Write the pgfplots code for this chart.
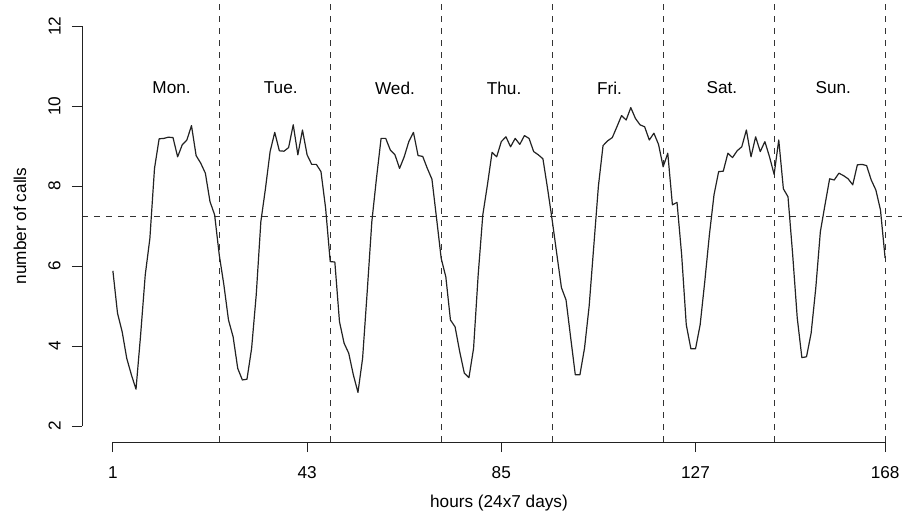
\documentclass[border=0pt]{standalone}
\usepackage{fontspec}
\setmainfont{Liberation Sans}
\usepackage{pgfplots}
\usepackage{pgfplotstable}
\pgfplotsset{compat=1.18}
\usetikzlibrary{calc}

% hourly number of calls over one week
\pgfplotstableread{
hour calls
1 5.88
2 4.82
3 4.36
4 3.69
5 3.28
6 2.92
7 4.28
8 5.78
9 6.69
10 8.44
11 9.18
12 9.19
13 9.22
14 9.21
15 8.73
16 9.03
17 9.15
18 9.51
19 8.76
20 8.57
21 8.32
22 7.61
23 7.28
24 6.28
25 5.53
26 4.65
27 4.23
28 3.44
29 3.15
30 3.17
31 3.94
32 5.28
33 7.11
34 7.94
35 8.86
36 9.34
37 8.88
38 8.87
39 8.96
40 9.53
41 8.78
42 9.40
43 8.78
44 8.54
45 8.54
46 8.36
47 7.45
48 6.11
49 6.10
50 4.61
51 4.07
52 3.82
53 3.28
54 2.84
55 3.69
56 5.36
57 7.11
58 8.19
59 9.19
60 9.19
61 8.90
62 8.78
63 8.44
64 8.73
65 9.11
66 9.34
67 8.76
68 8.74
69 8.44
70 8.17
71 7.19
72 6.19
73 5.73
74 4.65
75 4.48
76 3.86
77 3.32
78 3.21
79 3.94
80 5.78
81 7.28
82 8.03
83 8.84
84 8.73
85 9.11
86 9.23
87 8.98
88 9.19
89 9.04
90 9.26
91 9.19
92 8.86
93 8.78
94 8.68
95 7.94
96 7.15
97 6.30
98 5.46
99 5.15
100 4.21
101 3.28
102 3.28
103 3.95
104 5.00
105 6.50
106 8.00
107 9.01
108 9.13
109 9.21
110 9.48
111 9.76
112 9.65
113 9.96
114 9.69
115 9.53
116 9.48
117 9.15
118 9.32
119 9.04
120 8.48
121 8.82
122 7.53
123 7.59
124 6.28
125 4.53
126 3.93
127 3.93
128 4.53
129 5.61
130 6.78
131 7.78
132 8.36
133 8.37
134 8.82
135 8.71
136 8.88
137 8.98
138 9.40
139 8.73
140 9.23
141 8.86
142 9.11
143 8.73
144 8.29
145 9.15
146 7.93
147 7.73
148 6.30
149 4.70
150 3.71
151 3.73
152 4.32
153 5.44
154 6.86
155 7.53
156 8.18
157 8.15
158 8.32
159 8.26
160 8.18
161 8.03
162 8.53
163 8.54
164 8.51
165 8.15
166 7.90
167 7.40
168 6.20
}\calls

\definecolor{ink}{HTML}{222222}
\definecolor{refline}{HTML}{333333}

\begin{document}
\begin{tikzpicture}
\begin{axis}[
    name=ax,
    scale only axis,
    width=417pt, height=216pt,
    xmin=-5.68, xmax=174.68,
    ymin=1.6, ymax=12.4,
    clip=false,
    axis line style={draw=none},
    xtick={1,43,85,127,168},
    ytick={2,4,6,8,10,12},
    xtick pos=left, ytick pos=left,
    tick align=outside,
    major tick length=5pt,
    every tick/.style={ink, line width=0.45pt},
    tick label style={font=\fontsize{8.6}{10}\selectfont, inner sep=0pt,
        /pgf/number format/assume math mode=true},
    xticklabel style={anchor=north, yshift=-7pt},
    yticklabel={\rotatebox{90}{\pgfmathprintnumber{\tick}}},
    yticklabel style={anchor=east, xshift=-5.5pt},
    xlabel={hours (24x7 days)},
    ylabel={number of calls},
    label style={font=\fontsize{8.6}{10}\selectfont},
    xlabel style={at={(axis description cs:0.5,-0.142)}, anchor=center},
    ylabel style={at={(axis description cs:-0.0743,0.5)}, anchor=center},
]
% day separators and mean level
\addplot[refline, line width=0.45pt, dash pattern=on 3pt off 3pt] coordinates {(-5.68,7.25) (174.68,7.25)};
\addplot[refline, line width=0.45pt, dash pattern=on 3pt off 3pt] coordinates {(24,1.6) (24,12.7)};
\addplot[refline, line width=0.45pt, dash pattern=on 3pt off 3pt] coordinates {(48,1.6) (48,12.7)};
\addplot[refline, line width=0.45pt, dash pattern=on 3pt off 3pt] coordinates {(72,1.6) (72,12.7)};
\addplot[refline, line width=0.45pt, dash pattern=on 3pt off 3pt] coordinates {(96,1.6) (96,12.7)};
\addplot[refline, line width=0.45pt, dash pattern=on 3pt off 3pt] coordinates {(120,1.6) (120,12.7)};
\addplot[refline, line width=0.45pt, dash pattern=on 3pt off 3pt] coordinates {(144,1.6) (144,12.7)};
\addplot[refline, line width=0.45pt, dash pattern=on 3pt off 3pt] coordinates {(168,1.6) (168,12.7)};

\addplot[ink, line width=0.6pt, line join=round] table[x=hour, y=calls] {\calls};

% R-style axis lines, from first to last tick only
\draw[ink, line width=0.45pt] (axis cs:1,1.6) -- (axis cs:168,1.6);
\draw[ink, line width=0.45pt] (axis cs:-5.68,2) -- (axis cs:-5.68,12);

\begin{scope}[font=\fontsize{8.6}{10}\selectfont]
\node at (axis cs:13.7,10.45) {Mon.};
\node at (axis cs:37.3,10.45) {Tue.};
\node at (axis cs:62,10.45) {Wed.};
\node at (axis cs:85.6,10.45) {Thu.};
\node at (axis cs:108.4,10.45) {Fri.};
\node at (axis cs:132.7,10.45) {Sat.};
\node at (axis cs:156.8,10.45) {Sun.};
\end{scope}
\end{axis}
\pgfresetboundingbox
\path[use as bounding box] ($(ax.south west)+(-41pt,-36.5pt)$) rectangle ($(ax.south west)+(410pt,221pt)$);
\end{tikzpicture}
\end{document}
